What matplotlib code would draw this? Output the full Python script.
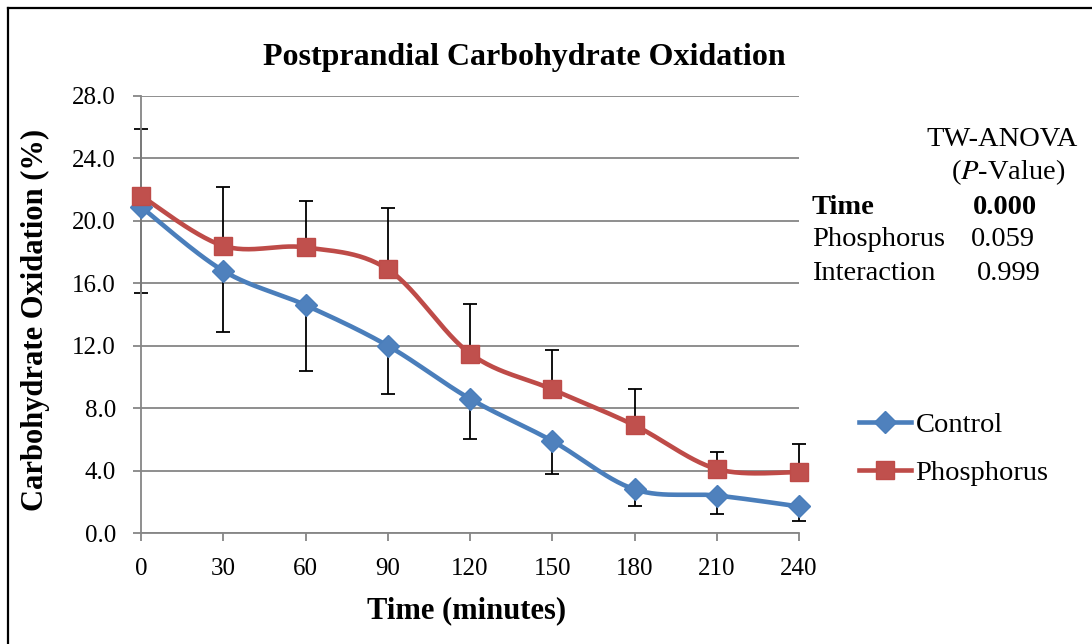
import numpy as np
import matplotlib
matplotlib.use("Agg")
import matplotlib.pyplot as plt
from matplotlib.lines import Line2D

plt.rcParams['font.family'] = ['Liberation Serif', 'DejaVu Serif']

# minutes after the meal
minutes = [0, 30, 60, 90, 120, 150, 180, 210, 240]

# carbohydrate oxidation (%) per group
control = [20.9, 16.8, 14.6, 12.0, 8.6, 5.9, 2.8, 2.4, 1.7]
phosphorus = [21.6, 18.4, 18.3, 16.9, 11.5, 9.2, 6.9, 4.1, 3.9]

# one-sided error bars: lower for control, upper for phosphorus
control_err = [5.5, 3.9, 4.2, 3.1, 2.6, 2.1, 1.1, 1.2, 0.9]
phosphorus_err = [4.3, 3.8, 3.0, 3.9, 3.2, 2.5, 2.3, 1.1, 1.8]

anova_rows = ["Time", "Phosphorus", "Interaction"]
anova_p = ["0.000", "0.059", "0.999"]

blue = '#4A7EBB'
red = '#BE4B48'
grid_gray = '#868686'


def smooth(x, y, n=30):
    # cardinal (Catmull-Rom) bezier through each point, like spreadsheet smoothed lines
    pts = np.column_stack([x, y]).astype(float)
    out = []
    for i in range(len(pts) - 1):
        p0 = pts[i - 1] if i > 0 else pts[i]
        p1 = pts[i]
        p2 = pts[i + 1]
        p3 = pts[i + 2] if i + 2 < len(pts) else pts[i + 1]
        c1 = p1 + (p2 - p0) / 6.0
        c2 = p2 - (p3 - p1) / 6.0
        t = np.linspace(0, 1, n)[:, None]
        seg = ((1 - t) ** 3) * p1 + 3 * ((1 - t) ** 2) * t * c1 + 3 * (1 - t) * t ** 2 * c2 + t ** 3 * p2
        out.append(seg if i == 0 else seg[1:])
    out = np.vstack(out)
    return out[:, 0], out[:, 1]


fig = plt.figure(figsize=(10.92, 6.44), dpi=100)
ax = fig.add_axes([141 / 1092, 1 - 533 / 644, 658 / 1092, 437 / 644])

for vals, err in [(control, [control_err, [0] * len(control)]),
                  (phosphorus, [[0] * len(phosphorus), phosphorus_err])]:
    eb = ax.errorbar(minutes, vals, yerr=err, fmt='none', ecolor='black',
                     elinewidth=1.3, capsize=5, capthick=1.3, zorder=2)
    for art in eb.lines[1] + eb.lines[2]:
        art.set_clip_on(False)

sx, sy = smooth(minutes, control)
ax.plot(sx, sy, color=blue, lw=3.3, zorder=3, solid_capstyle='round', clip_on=False)
ax.plot(minutes, control, ls='none', marker='D', ms=11, color='#4F81BD', mec=blue,
        zorder=4, clip_on=False)
sx, sy = smooth(minutes, phosphorus)
ax.plot(sx, sy, color=red, lw=3.3, zorder=3, solid_capstyle='round', clip_on=False)
ax.plot(minutes, phosphorus, ls='none', marker='s', ms=12.5, color='#C0504D', mec=red,
        zorder=4, clip_on=False)

ax.set_xlim(0, 240)
ax.set_ylim(0, 28)
ax.set_xticks(minutes)
ax.set_yticks(np.arange(0, 28.1, 4))
ax.yaxis.set_major_formatter(matplotlib.ticker.FormatStrFormatter('%.1f'))
ax.tick_params(axis='both', labelsize=18, colors=grid_gray, labelcolor='black',
               width=1.3, length=6)
ax.tick_params(axis='x', pad=12)
ax.tick_params(axis='y', pad=12)
ax.grid(axis='y', color=grid_gray, lw=1.3)
ax.set_axisbelow(True)
for side in ['top', 'right']:
    ax.spines[side].set_visible(False)
for side in ['left', 'bottom']:
    ax.spines[side].set_color(grid_gray)
    ax.spines[side].set_linewidth(1.3)

fig.text(524 / 1092, 1 - 57 / 644, 'Postprandial Carbohydrate Oxidation',
         ha='center', va='center', fontsize=23, fontweight='bold')
fig.text(467 / 1092, 1 - 611 / 644, 'Time (minutes)',
         ha='center', va='center', fontsize=22, fontweight='bold')
fig.text(35 / 1092, 1 - 320 / 644, 'Carbohydrate Oxidation (%)', rotation=90,
         ha='center', va='center', fontsize=22, fontweight='bold')

# ANOVA summary
fig.text(1078 / 1092, 1 - 139 / 644, 'TW-ANOVA', ha='right', va='center', fontsize=20.5)
fig.text(1066 / 1092, 1 - 172 / 644, r'($\mathit{P}$-Value)', ha='right', va='center',
         fontsize=20.5, math_fontfamily='stix')
val_x = [1037, 1035, 1041]
for i, (name, p) in enumerate(zip(anova_rows, anova_p)):
    y = 1 - (207 + 33 * i) / 644
    w = 'bold' if i == 0 else 'normal'
    fig.text(812 / 1092, y, name, ha='left', va='center', fontsize=20.5, fontweight=w)
    fig.text(val_x[i] / 1092, y, p, ha='right', va='center', fontsize=20.5, fontweight=w)

handles = [
    Line2D([], [], color=blue, lw=3.3, marker='D', ms=11, mfc='#4F81BD', mec=blue),
    Line2D([], [], color=red, lw=3.3, marker='s', ms=12.5, mfc='#C0504D', mec=red),
]
fig.legend(handles, ['Control', 'Phosphorus'], loc='center left',
           bbox_to_anchor=(833 / 1092, 1 - 449 / 644), frameon=False, fontsize=20.5,
           handlelength=1.85, handletextpad=0.15, labelspacing=0.78)

# frame lines along top and left edge
fig.add_artist(Line2D([7.5 / 1092, 1], [1 - 8 / 644, 1 - 8 / 644], color='black', lw=1.6,
                      transform=fig.transFigure))
fig.add_artist(Line2D([7.5 / 1092, 7.5 / 1092], [0, 1 - 8 / 644], color='black', lw=1.6,
                      transform=fig.transFigure))

fig.savefig('out.png', dpi=100)
